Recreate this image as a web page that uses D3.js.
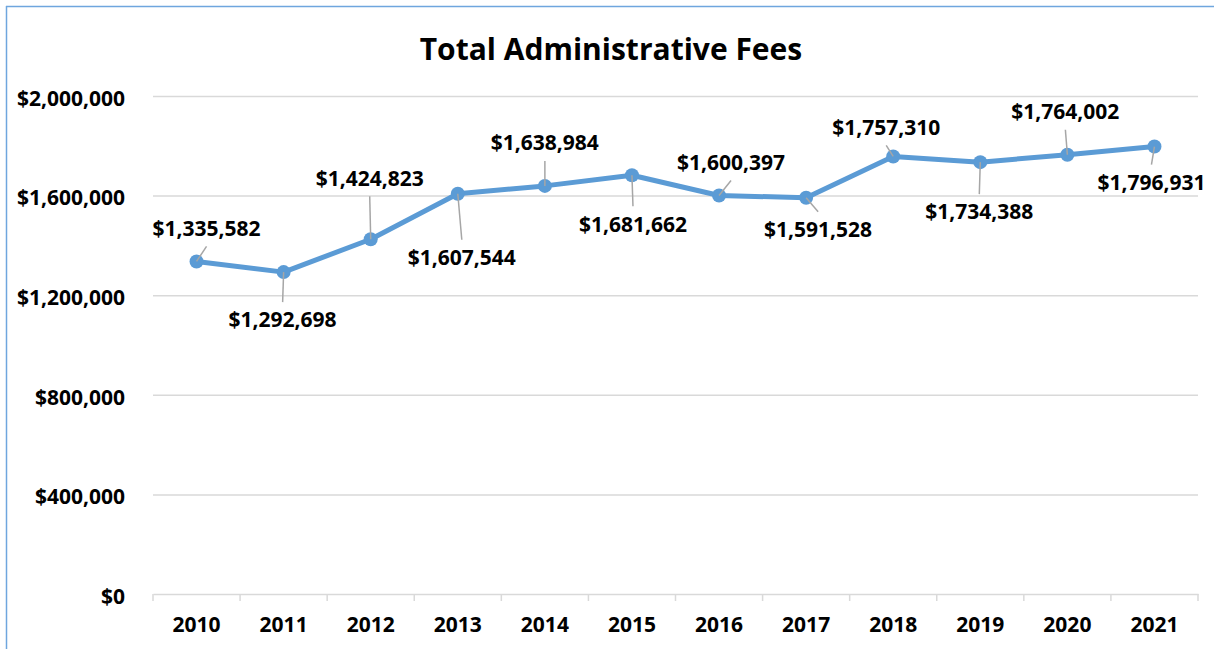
<!DOCTYPE html>
<html>
<head>
<meta charset="utf-8">
<script src="https://cdn.jsdelivr.net/npm/d3@7"></script>
<style>
  html, body { margin: 0; padding: 0; background: #fff; }
  svg { display: block; }
  text { font-family: "Open Sans", Lato, sans-serif; font-weight: 700; fill: #000; }
</style>
</head>
<body>
<svg id="chart" width="1214" height="649"></svg>
<script>
// ---- data ----
const years = ["2010","2011","2012","2013","2014","2015","2016","2017","2018","2019","2020","2021"];
const fees = [1335582, 1292698, 1424823, 1607544, 1638984, 1681662, 1600397, 1591528, 1757310, 1734388, 1764002, 1796931];
const yTicks = [0, 400000, 800000, 1200000, 1600000, 2000000];
const title = "Total Administrative Fees";
// label placement relative to its point (layout only)
const labelOffsets = [[10,-33],[-1,48],[-1,-61],[4,64],[0,-43],[1,49],[12,-33],[12,32],[-7,-29],[-1,50],[-2,-43],[-3,36]];

// ---- layout ----
const W = 1214, H = 649;
const plot = { left: 153, right: 1198, top: 96, bottom: 594 };
const FONT = "'Open Sans', Lato, sans-serif";
const FS = "21px";

const svg = d3.select("#chart");

// border (top and left visible)
svg.append("line").attr("x1", 6).attr("x2", W).attr("y1", 6.5).attr("y2", 6.5)
  .attr("stroke", "#6FA6DE").attr("stroke-width", 1.5);
svg.append("line").attr("x1", 6.5).attr("x2", 6.5).attr("y1", 6).attr("y2", H)
  .attr("stroke", "#6FA6DE").attr("stroke-width", 1.5);

const x = d3.scaleBand().domain(years).range([plot.left, plot.right]).padding(0);
const y = d3.scaleLinear().domain([0, 2000000]).range([plot.bottom, plot.top]);

// gridlines
const grid = svg.append("g").attr("transform", `translate(${plot.left},0)`)
  .call(d3.axisLeft(y).tickValues(yTicks.filter(d => d > 0)).tickSize(-(plot.right - plot.left)).tickFormat(""));
grid.select(".domain").remove();
grid.selectAll("line").attr("stroke", "#D9D9D9").attr("stroke-width", 1.5);

// y axis labels
const fmt = d => "$" + d3.format(",")(d);
const yAxis = svg.append("g").attr("transform", `translate(${plot.left},0)`)
  .call(d3.axisLeft(y).tickValues(yTicks).tickSize(0).tickPadding(28).tickFormat(fmt));
yAxis.select(".domain").remove();
yAxis.selectAll("text").attr("dy", "0.44em").style("font-size", FS).style("font-family", FONT).style("font-weight", 700);

// x axis
const xAxis = svg.append("g").attr("transform", `translate(0,${plot.bottom})`)
  .call(d3.axisBottom(x).tickSize(0).tickPadding(23));
xAxis.select(".domain").attr("stroke", "#D9D9D9").attr("stroke-width", 1.5);
xAxis.selectAll("text").style("font-size", FS).style("font-family", FONT).style("font-weight", 700);
// tick marks at band boundaries
const bounds = years.map(d => x(d)).concat([x(years[years.length-1]) + x.bandwidth()]);
svg.append("g").selectAll("line").data(bounds).join("line")
  .attr("x1", d => d).attr("x2", d => d)
  .attr("y1", plot.bottom).attr("y2", plot.bottom + 7)
  .attr("stroke", "#D9D9D9").attr("stroke-width", 1.5);

// title
svg.append("text").attr("x", 611).attr("y", 60).attr("text-anchor", "middle")
  .style("font-size", "30px").text(title);

// line
const cx = (d, i) => x(years[i]) + x.bandwidth() / 2;
const line = d3.line().x((d, i) => cx(d, i)).y(d => y(d));
svg.append("path").datum(fees).attr("d", line)
  .attr("fill", "none").attr("stroke", "#5B9BD5").attr("stroke-width", 5)
  .attr("stroke-linejoin", "round");

svg.append("g").selectAll("circle").data(fees).join("circle")
  .attr("cx", cx).attr("cy", d => y(d)).attr("r", 7).attr("fill", "#5B9BD5");

// leader lines
svg.append("g").selectAll("line").data(fees).join("line")
  .attr("x1", cx).attr("y1", d => y(d))
  .attr("x2", (d, i) => cx(d, i) + labelOffsets[i][0])
  .attr("y2", (d, i) => y(d) + labelOffsets[i][1] + (labelOffsets[i][1] < 0 ? 18 : -18))
  .attr("stroke", "#A6A6A6").attr("stroke-width", 1.5);

// data labels
svg.append("g").selectAll("text").data(fees).join("text")
  .attr("x", (d, i) => cx(d, i) + labelOffsets[i][0])
  .attr("y", (d, i) => y(d) + labelOffsets[i][1])
  .attr("dy", "0.35em").attr("text-anchor", "middle")
  .style("font-size", FS)
  .text(fmt);
</script>
</body>
</html>
